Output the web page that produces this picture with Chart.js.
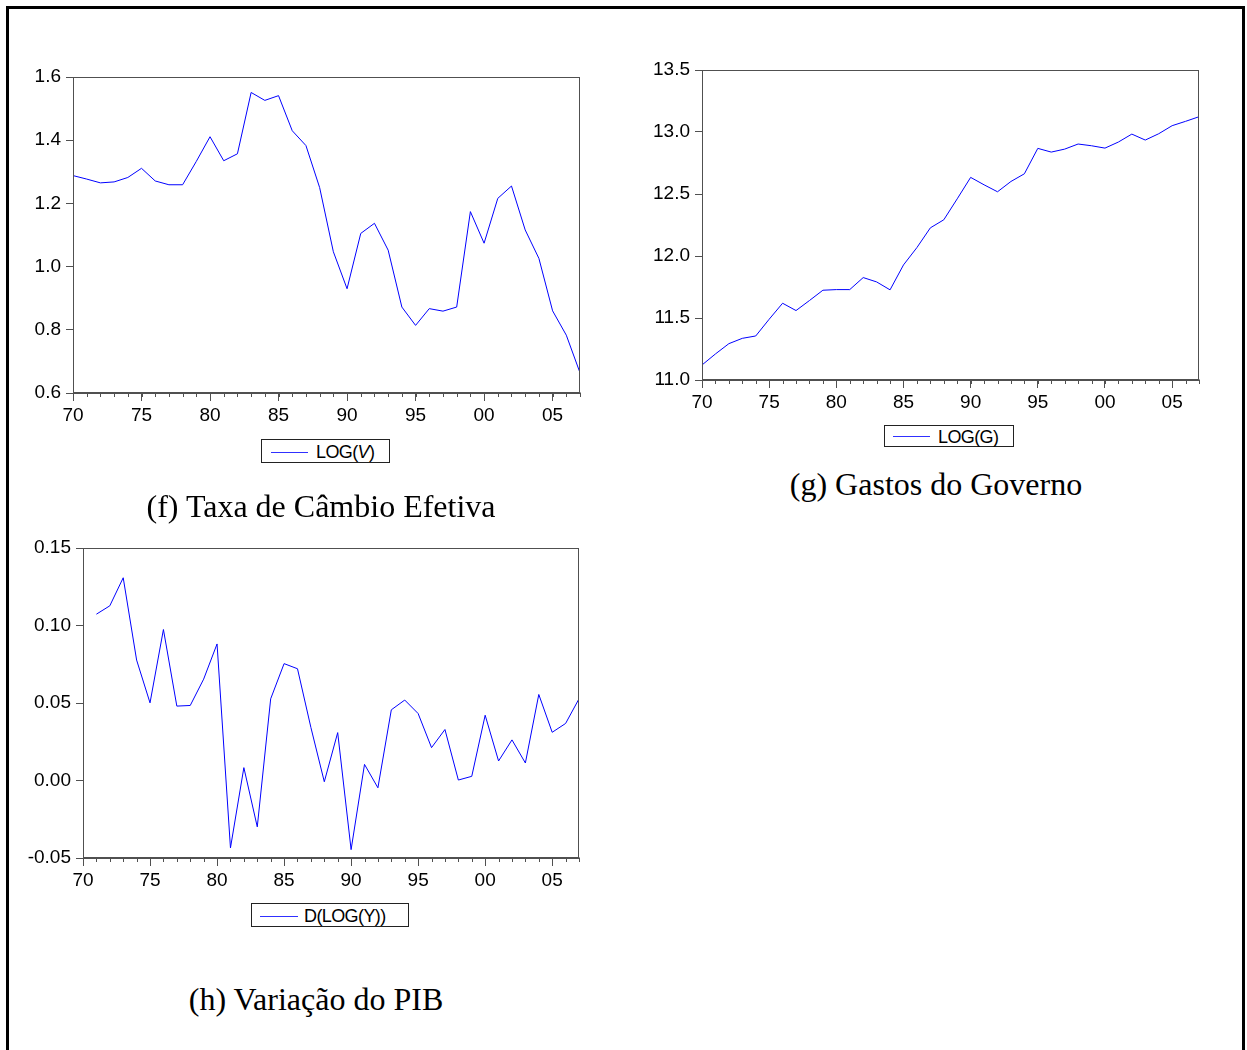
<!DOCTYPE html>
<html>
<head>
<meta charset="utf-8">
<script src="https://cdn.jsdelivr.net/npm/chart.js@4.4.0/dist/chart.umd.min.js"></script>
<style>
  html, body { margin: 0; padding: 0; background: #fff; width: 1247px; height: 1050px; overflow: hidden; }
  #frame { position: absolute; left: 6px; top: 6px; width: 1233px; height: 1070px; border: 3px solid #000; }
  canvas { position: absolute; }
  .legend { position: absolute; border: 1px solid #222; box-sizing: border-box; background: #fff;
            font-family: "Liberation Sans", Arial, sans-serif; font-size: 18px; letter-spacing: -0.6px; color: #000; }
  .legend .ln { position: absolute; height: 1px; background: #3030ff; }
  .legend .tx { position: absolute; line-height: 18px; white-space: nowrap; }
  .caption { position: absolute; font-family: "Liberation Serif", "Times New Roman", serif; font-size: 32px;
             line-height: 32px; white-space: nowrap; transform: translateX(-50%); color: #000; }
</style>
</head>
<body>
<div id="frame"></div>

<canvas id="chartV" width="580" height="380" style="left:10px;top:50px"></canvas>
<canvas id="chartG" width="579" height="372" style="left:630px;top:45px"></canvas>
<canvas id="chartY" width="579" height="375" style="left:10px;top:520px"></canvas>

<div class="legend" style="left:261px;top:439px;width:129px;height:24px">
  <div class="ln" style="left:9px;top:12px;width:37px"></div>
  <div class="tx" style="left:54px;top:3px">LOG(<i>V</i>)</div>
</div>
<div class="legend" style="left:884px;top:425px;width:130px;height:22px">
  <div class="ln" style="left:8px;top:10px;width:37px"></div>
  <div class="tx" style="left:53px;top:2px">LOG(G)</div>
</div>
<div class="legend" style="left:251px;top:903px;width:158px;height:24px">
  <div class="ln" style="left:8px;top:12px;width:38px"></div>
  <div class="tx" style="left:52px;top:3px">D(LOG(Y))</div>
</div>

<div class="caption" style="left:321px;top:490px">(f) Taxa de Câmbio Efetiva</div>
<div class="caption" style="left:936px;top:468px">(g) Gastos do Governo</div>
<div class="caption" style="left:316px;top:983px">(h) Variação do PIB</div>

<script>
// Annual series, 1970-2007
const yearsV = [1970,1971,1972,1973,1974,1975,1976,1977,1978,1979,1980,1981,1982,1983,1984,1985,1986,1987,1988,
                1989,1990,1991,1992,1993,1994,1995,1996,1997,1998,1999,2000,2001,2002,2003,2004,2005,2006,2007];
// LOG(V) – effective exchange rate
const logV = [1.288,1.277,1.265,1.268,1.282,1.311,1.271,1.259,1.259,1.333,1.411,1.335,1.357,1.551,1.526,1.541,
              1.430,1.383,1.250,1.047,0.930,1.105,1.137,1.052,0.872,0.814,0.867,0.859,0.872,1.174,1.074,1.216,
              1.255,1.116,1.026,0.860,0.783,0.664];

const yearsG = yearsV;
// LOG(G) – government spending
const logG = [11.121,11.210,11.293,11.336,11.355,11.490,11.619,11.560,11.641,11.724,11.729,11.729,11.826,11.791,
              11.727,11.928,12.068,12.227,12.292,12.461,12.634,12.574,12.518,12.601,12.663,12.868,12.838,12.862,
              12.903,12.889,12.870,12.919,12.983,12.935,12.986,13.051,13.086,13.123];

// D(LOG(Y)) – GDP growth, first difference starts in 1971
const yearsY = yearsV.slice(1);
const dLogY = [0.1073,0.1127,0.1308,0.0777,0.0501,0.0974,0.0480,0.0484,0.0654,0.0881,-0.0435,0.0083,-0.0299,
               0.0527,0.0754,0.0721,0.0342,-0.0008,0.0309,-0.0446,0.0104,-0.0047,0.0456,0.0519,0.0432,0.0212,
               0.0329,0.0003,0.0027,0.0421,0.0126,0.0262,0.0113,0.0555,0.0311,0.0368,0.0527];

const labelV = 'LOG(V)', labelG = 'LOG(G)', labelY = 'D(LOG(Y))';

const AXIS = '#505050';
const LINE = '#0000ff';
const TICK_FONT = { family: '"Liberation Sans", Arial, sans-serif', size: 19 };

// plot frame plus one short tick per year under the x axis
const frameAndMinorTicks = {
  id: 'frameAndMinorTicks',
  afterDraw(chart) {
    const { ctx, chartArea: a, scales: { x } } = chart;
    ctx.save();
    ctx.strokeStyle = AXIS;
    ctx.lineWidth = 1;
    const l = Math.round(a.left) + 0.5, t = Math.round(a.top) + 0.5;
    const r = Math.round(a.right) - 0.5, b = Math.round(a.bottom) - 0.5;
    ctx.strokeRect(l, t, r - l, b - t);
    ctx.beginPath();
    for (let yr = Math.ceil(x.min); yr <= x.max; yr++) {
      const px = Math.round(x.getPixelForValue(yr)) + 0.5;
      ctx.moveTo(px, b);
      ctx.lineTo(px, b + 4.5);
    }
    ctx.stroke();
    ctx.restore();
  }
};

function makeChart(id, years, values, label, yMin, yMax, yStep, decimals, yAxisWidth, padTop) {
  const points = years.map((yr, i) => ({ x: yr, y: values[i] }));
  return new Chart(document.getElementById(id), {
    type: 'line',
    data: {
      datasets: [{
        label: label,
        data: points,
        borderColor: LINE,
        borderWidth: 1,
        pointRadius: 0,
        tension: 0,
        fill: false
      }]
    },
    options: {
      responsive: false,
      animation: false,
      events: [],
      layout: { autoPadding: false, padding: { left: 0, right: 10, top: padTop, bottom: 0 } },
      plugins: { legend: { display: false }, tooltip: { enabled: false } },
      scales: {
        x: {
          type: 'linear',
          min: 1970,
          max: 2007,
          afterFit(scale) { scale.height = 37; },
          afterBuildTicks(scale) {
            const t = [];
            for (let v = Math.ceil(scale.min / 5) * 5; v <= scale.max; v += 5) t.push({ value: v });
            scale.ticks = t;
          },
          ticks: {
            autoSkip: false,
            maxRotation: 0,
            padding: 3,
            color: '#000',
            font: TICK_FONT,
            callback: v => String(v % 100).padStart(2, '0')
          },
          grid: { drawOnChartArea: false, drawTicks: true, tickLength: 8, color: AXIS, tickColor: AXIS },
          border: { display: true, color: AXIS }
        },
        y: {
          min: yMin,
          max: yMax,
          afterFit(scale) { scale.width = yAxisWidth; },
          ticks: {
            stepSize: yStep,
            padding: 5,
            color: '#000',
            font: TICK_FONT,
            callback: v => Number(v).toFixed(decimals)
          },
          grid: { drawOnChartArea: false, drawTicks: true, tickLength: 7, color: AXIS, tickColor: AXIS },
          border: { display: true, color: AXIS }
        }
      }
    },
    plugins: [frameAndMinorTicks]
  });
}

makeChart('chartV', yearsV, logV, labelV, 0.6, 1.6, 0.2, 1, 63, 27);
makeChart('chartG', yearsG, logG, labelG, 11.0, 13.5, 0.5, 1, 72, 25);
makeChart('chartY', yearsY, dLogY, labelY, -0.05, 0.15, 0.05, 2, 73, 28);
</script>
</body>
</html>
